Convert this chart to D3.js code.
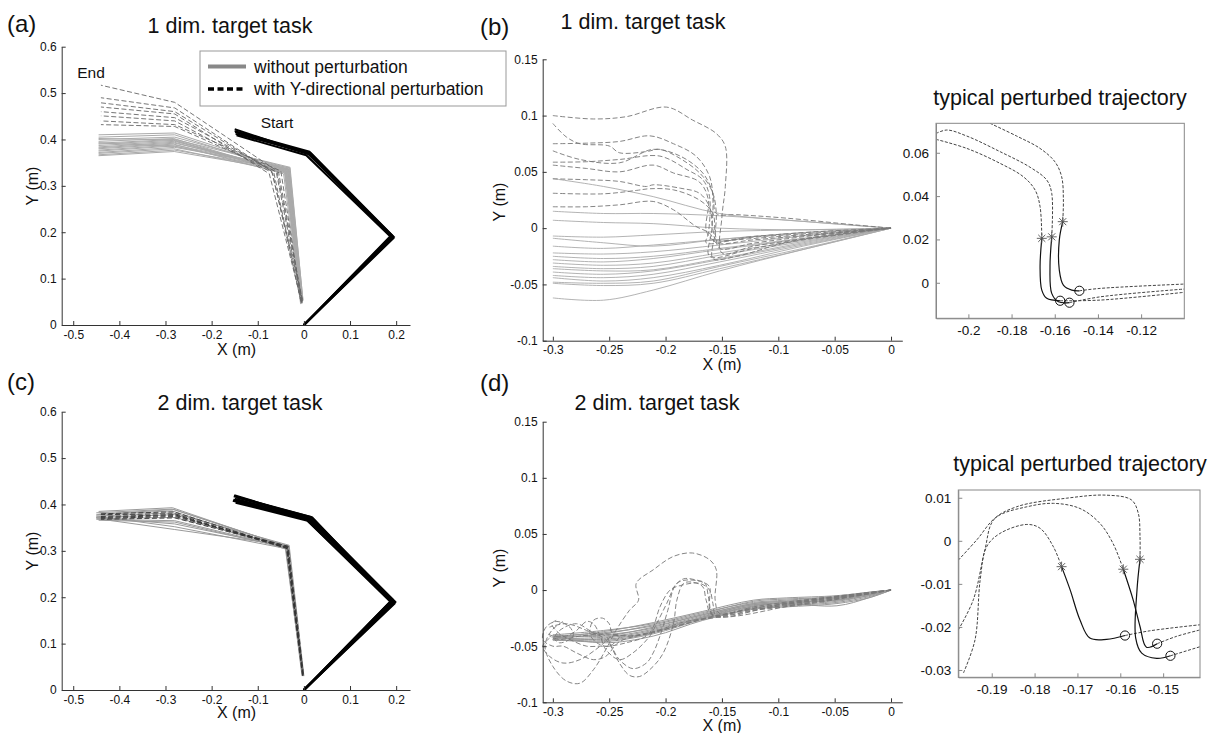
<!DOCTYPE html>
<html><head><meta charset="utf-8">
<script src="https://cdn.jsdelivr.net/npm/d3@7"></script>
<style>body{margin:0;background:#fff;} text{font-family:"Liberation Sans",Arial,Helvetica,sans-serif;fill:#111;}</style>
</head><body><svg id="c" width="1218" height="733"></svg>
<script>
// ---------- DATA ----------
// panel (a): arm postures [x,y] (m)
const aStart = [
 [[0,0],[0.195,0.190],[0.012,0.374],[-0.150,0.418]],
 [[0,0],[0.192,0.192],[0.010,0.372],[-0.148,0.412]],
 [[0,0],[0.190,0.194],[0.008,0.370],[-0.150,0.422]],
 [[0,0],[0.188,0.190],[0.005,0.366],[-0.146,0.409]],
 [[0,0],[0.194,0.187],[0.015,0.370],[-0.144,0.415]],
 [[0,0],[0.191,0.189],[0.011,0.368],[-0.149,0.416]]
];
const aEndSolid = [
 [[-0.004,0.050],[-0.035,0.335],[-0.280,0.414],[-0.445,0.410]],
 [[-0.006,0.048],[-0.038,0.333],[-0.280,0.410],[-0.445,0.405]],
 [[-0.003,0.055],[-0.032,0.338],[-0.280,0.405],[-0.445,0.400]],
 [[-0.005,0.046],[-0.040,0.330],[-0.282,0.402],[-0.445,0.396]],
 [[-0.002,0.052],[-0.030,0.340],[-0.280,0.400],[-0.445,0.392]],
 [[-0.006,0.058],[-0.042,0.328],[-0.282,0.398],[-0.445,0.390]],
 [[-0.004,0.047],[-0.036,0.334],[-0.280,0.396],[-0.445,0.387]],
 [[-0.005,0.053],[-0.038,0.331],[-0.281,0.394],[-0.445,0.384]],
 [[-0.003,0.049],[-0.033,0.336],[-0.280,0.392],[-0.445,0.382]],
 [[-0.007,0.045],[-0.044,0.326],[-0.282,0.390],[-0.445,0.380]],
 [[-0.004,0.056],[-0.034,0.337],[-0.280,0.388],[-0.445,0.377]],
 [[-0.005,0.050],[-0.039,0.332],[-0.281,0.386],[-0.445,0.375]],
 [[-0.002,0.054],[-0.031,0.339],[-0.280,0.383],[-0.445,0.372]],
 [[-0.006,0.047],[-0.041,0.329],[-0.282,0.380],[-0.445,0.370]],
 [[-0.004,0.051],[-0.035,0.335],[-0.280,0.377],[-0.445,0.367]],
 [[-0.005,0.049],[-0.037,0.333],[-0.281,0.374],[-0.445,0.365]],
 [[-0.003,0.052],[-0.033,0.336],[-0.280,0.385],[-0.445,0.393]],
 [[-0.006,0.048],[-0.040,0.330],[-0.281,0.399],[-0.445,0.402]]
];
const aEndDashed = [
 [[-0.004,0.052],[-0.055,0.330],[-0.280,0.480],[-0.440,0.517]],
 [[-0.006,0.048],[-0.065,0.328],[-0.280,0.468],[-0.440,0.490]],
 [[-0.003,0.055],[-0.070,0.332],[-0.280,0.460],[-0.440,0.479]],
 [[-0.005,0.050],[-0.075,0.326],[-0.280,0.455],[-0.440,0.470]],
 [[-0.004,0.047],[-0.060,0.330],[-0.280,0.447],[-0.440,0.460]],
 [[-0.007,0.053],[-0.068,0.328],[-0.280,0.440],[-0.440,0.451]],
 [[-0.005,0.049],[-0.050,0.332],[-0.280,0.432],[-0.440,0.440]],
 [[-0.003,0.051],[-0.058,0.330],[-0.280,0.428],[-0.440,0.432]]
];
// panel (c)
const cStart = [
 [[0,0],[0.198,0.190],[0.015,0.373],[-0.152,0.418]],
 [[0,0],[0.195,0.192],[0.012,0.370],[-0.150,0.412]],
 [[0,0],[0.192,0.195],[0.010,0.368],[-0.154,0.408]],
 [[0,0],[0.190,0.188],[0.008,0.365],[-0.148,0.404]],
 [[0,0],[0.196,0.186],[0.018,0.372],[-0.146,0.415]],
 [[0,0],[0.193,0.190],[0.013,0.369],[-0.151,0.420]],
 [[0,0],[0.189,0.192],[0.006,0.367],[-0.153,0.410]]
];
const cEndSolid = [
 [[-0.002,0.032],[-0.035,0.310],[-0.285,0.390],[-0.450,0.382]],
 [[-0.003,0.034],[-0.038,0.306],[-0.285,0.386],[-0.450,0.378]],
 [[0.000,0.030],[-0.032,0.312],[-0.285,0.382],[-0.450,0.375]],
 [[-0.004,0.036],[-0.040,0.304],[-0.280,0.378],[-0.450,0.372]],
 [[-0.001,0.033],[-0.034,0.309],[-0.280,0.372],[-0.450,0.370]],
 [[-0.003,0.031],[-0.037,0.307],[-0.280,0.365],[-0.450,0.368]],
 [[-0.002,0.035],[-0.036,0.308],[-0.280,0.358],[-0.450,0.372]],
 [[-0.004,0.030],[-0.039,0.305],[-0.280,0.352],[-0.450,0.375]],
 [[-0.001,0.034],[-0.033,0.311],[-0.280,0.346],[-0.445,0.369]],
 [[-0.002,0.032],[-0.036,0.308],[-0.285,0.393],[-0.445,0.385]],
 [[-0.003,0.033],[-0.037,0.306],[-0.280,0.362],[-0.445,0.366]],
 [[-0.002,0.031],[-0.035,0.309],[-0.282,0.389],[-0.445,0.379]]
];
const cEndDashed = [
 [[-0.002,0.033],[-0.036,0.309],[-0.280,0.376],[-0.440,0.372]],
 [[-0.003,0.031],[-0.038,0.306],[-0.280,0.380],[-0.440,0.378]],
 [[-0.001,0.035],[-0.034,0.310],[-0.280,0.374],[-0.440,0.370]],
 [[-0.002,0.032],[-0.037,0.307],[-0.282,0.384],[-0.440,0.380]],
 [[-0.003,0.034],[-0.035,0.308],[-0.280,0.371],[-0.440,0.368]],
 [[-0.002,0.030],[-0.036,0.305],[-0.280,0.378],[-0.440,0.374]]
];
// panel (b): hand paths
const bSolidX = [-0.300,-0.255,-0.211,-0.152,-0.078,0];
const bSolidY = [
 [0.044,0.037,0.028,0.013,0.006,0],
 [0.015,0.013,0.013,0.011,0.006,0],
 [0.007,0.005,0.004,0.000,-0.0015,0],
 [-0.007,-0.008,-0.006,-0.003,-0.0015,0],
 [-0.009,-0.013,-0.016,-0.010,-0.004,0],
 [-0.016,-0.018,-0.015,-0.010,-0.004,0],
 [-0.022,-0.023,-0.021,-0.015,-0.007,0],
 [-0.025,-0.027,-0.025,-0.018,-0.009,0],
 [-0.028,-0.030,-0.027,-0.019,-0.010,0],
 [-0.031,-0.033,-0.031,-0.022,-0.011,0],
 [-0.034,-0.036,-0.034,-0.024,-0.012,0],
 [-0.036,-0.038,-0.037,-0.027,-0.013,0],
 [-0.039,-0.041,-0.038,-0.028,-0.014,0],
 [-0.042,-0.044,-0.041,-0.030,-0.015,0],
 [-0.044,-0.047,-0.044,-0.033,-0.016,0],
 [-0.048,-0.049,-0.047,-0.034,-0.018,0],
 [-0.049,-0.051,-0.049,-0.036,-0.019,0],
 [-0.062,-0.064,-0.055,-0.038,-0.019,0]
];
const bDashed = [
 [[-0.300,0.100],[-0.264,0.097],[-0.235,0.099],[-0.199,0.1075],[-0.176,0.096],[-0.155,0.084],[-0.147,0.0725],[-0.147,0.037],[-0.150,0.010],[-0.150,-0.022],[-0.122,-0.016],[-0.063,-0.0074],[0,0]],
 [[-0.300,0.093],[-0.288,0.081],[-0.276,0.075],[-0.250,0.073],[-0.241,0.067],[-0.217,0.068],[-0.205,0.070],[-0.181,0.058],[-0.167,0.046],[-0.158,0.031],[-0.155,0.013],[-0.156,-0.0044],[-0.158,-0.027],[-0.137,-0.025],[-0.093,-0.013],[-0.033,-0.0044],[0,0]],
 [[-0.300,0.075],[-0.270,0.0755],[-0.241,0.077],[-0.214,0.082],[-0.193,0.075],[-0.173,0.064],[-0.161,0.046],[-0.158,0.025],[-0.159,-0.0015],[-0.161,-0.025],[-0.122,-0.018],[-0.063,-0.0074],[0,0]],
 [[-0.300,0.0687],[-0.276,0.061],[-0.241,0.058],[-0.211,0.070],[-0.187,0.064],[-0.167,0.049],[-0.158,0.031],[-0.155,0.013],[-0.137,0.012],[-0.093,0.0089],[-0.033,0.003],[0,0]],
 [[-0.300,0.0586],[-0.270,0.059],[-0.241,0.061],[-0.205,0.064],[-0.181,0.052],[-0.167,0.043],[-0.161,0.028],[-0.162,-0.0044],[-0.164,-0.013],[-0.137,-0.0104],[-0.078,-0.0059],[0,0]],
 [[-0.300,0.056],[-0.270,0.053],[-0.241,0.050],[-0.211,0.056],[-0.193,0.049],[-0.170,0.041],[-0.162,0.025],[-0.164,-0.0015],[-0.158,-0.0104],[-0.122,-0.0074],[-0.063,-0.003],[0,0]],
 [[-0.300,0.0438],[-0.270,0.043],[-0.241,0.0415],[-0.217,0.037],[-0.211,0.0385],[-0.187,0.0355],[-0.170,0.031],[-0.161,0.019],[-0.158,-0.0015],[-0.155,-0.0104],[-0.122,-0.008],[0,0]],
 [[-0.300,0.031],[-0.255,0.0305],[-0.226,0.0335],[-0.214,0.035],[-0.193,0.034],[-0.170,0.025],[-0.158,0.013],[-0.156,-0.0044],[-0.152,-0.018],[-0.122,-0.0133],[-0.063,-0.006],[0,0]],
 [[-0.300,0.019],[-0.270,0.019],[-0.241,0.0207],[-0.211,0.0237],[-0.193,0.0163],[-0.173,0.0015],[-0.161,-0.0044],[-0.155,-0.013],[-0.122,-0.0104],[0,0]]
];
// panel (d): hand paths
const dSolidX = [-0.300,-0.255,-0.211,-0.167,-0.122,-0.093,-0.048,-0.020,0];
const dSolidY = [
 [-0.040,-0.036,-0.030,-0.020,-0.011,-0.009,-0.006,-0.003,0],
 [-0.041,-0.038,-0.032,-0.022,-0.012,-0.010,-0.007,-0.004,0],
 [-0.042,-0.040,-0.034,-0.023,-0.013,-0.011,-0.008,-0.004,0],
 [-0.043,-0.042,-0.035,-0.024,-0.014,-0.012,-0.009,-0.005,0],
 [-0.042,-0.044,-0.037,-0.025,-0.015,-0.013,-0.010,-0.005,0],
 [-0.044,-0.046,-0.039,-0.026,-0.016,-0.014,-0.011,-0.006,0],
 [-0.041,-0.047,-0.041,-0.027,-0.017,-0.015,-0.012,-0.007,0],
 [-0.043,-0.039,-0.031,-0.021,-0.010,-0.008,-0.006,-0.002,0],
 [-0.045,-0.043,-0.036,-0.025,-0.014,-0.011,-0.009,-0.004,0],
 [-0.042,-0.037,-0.029,-0.019,-0.009,-0.007,-0.005,-0.002,0],
 [-0.044,-0.045,-0.038,-0.024,-0.013,-0.012,-0.014,-0.007,0],
 [-0.040,-0.041,-0.033,-0.022,-0.012,-0.010,-0.007,-0.003,0]
];
const dDashed = [
 [[0,0],[-0.034,-0.006],[-0.078,-0.013],[-0.122,-0.018],[-0.152,-0.021],[-0.156,-0.009],[-0.155,0.018],[-0.161,0.027],[-0.176,0.033],[-0.193,0.030],[-0.211,0.018],[-0.226,0.006],[-0.224,-0.009],[-0.232,-0.018],[-0.244,-0.036],[-0.253,-0.053],[-0.264,-0.071],[-0.276,-0.083],[-0.288,-0.081],[-0.300,-0.068],[-0.307,-0.050],[-0.301,-0.036],[-0.291,-0.028]],
 [[0,0],[-0.063,-0.009],[-0.122,-0.016],[-0.158,-0.022],[-0.161,-0.012],[-0.161,0.003],[-0.167,0.007],[-0.181,0.009],[-0.190,0.006],[-0.199,-0.012],[-0.208,-0.030],[-0.214,-0.041],[-0.229,-0.056],[-0.241,-0.062],[-0.253,-0.053],[-0.258,-0.041],[-0.264,-0.030],[-0.270,-0.028],[-0.279,-0.036],[-0.288,-0.041],[-0.300,-0.041],[-0.306,-0.038]],
 [[0,0],[-0.093,-0.012],[-0.158,-0.023],[-0.164,-0.009],[-0.167,0.003],[-0.176,0.007],[-0.184,0.006],[-0.190,-0.009],[-0.193,-0.030],[-0.202,-0.056],[-0.211,-0.068],[-0.223,-0.077],[-0.232,-0.076],[-0.241,-0.065],[-0.247,-0.053],[-0.253,-0.044],[-0.270,-0.036],[-0.288,-0.030],[-0.303,-0.033]],
 [[0,0],[-0.122,-0.015],[-0.155,-0.023],[-0.158,-0.012],[-0.161,0],[-0.170,0.006],[-0.187,0.004],[-0.196,0],[-0.205,-0.015],[-0.211,-0.033],[-0.217,-0.041],[-0.235,-0.047],[-0.250,-0.050],[-0.258,-0.050],[-0.270,-0.050],[-0.285,-0.044],[-0.294,-0.039],[-0.301,-0.030],[-0.297,-0.027]],
 [[0,0],[-0.093,-0.013],[-0.152,-0.024],[-0.182,-0.028],[-0.211,-0.037],[-0.235,-0.041],[-0.247,-0.039],[-0.250,-0.030],[-0.256,-0.025],[-0.264,-0.027],[-0.267,-0.039],[-0.261,-0.047],[-0.250,-0.050],[-0.241,-0.041],[-0.253,-0.039],[-0.276,-0.041],[-0.294,-0.044],[-0.303,-0.041]],
 [[0,0],[-0.108,-0.014],[-0.158,-0.024],[-0.193,-0.033],[-0.217,-0.039],[-0.241,-0.046],[-0.253,-0.059],[-0.264,-0.062],[-0.279,-0.056],[-0.291,-0.050],[-0.300,-0.050],[-0.309,-0.044],[-0.306,-0.033],[-0.297,-0.028],[-0.285,-0.033],[-0.282,-0.041],[-0.294,-0.047],[-0.301,-0.041]],
 [[0,0],[-0.078,-0.012],[-0.158,-0.022],[-0.162,-0.006],[-0.165,0.006],[-0.173,0.009],[-0.184,0.010],[-0.192,0.003],[-0.198,-0.018],[-0.205,-0.041],[-0.211,-0.056],[-0.217,-0.065],[-0.229,-0.070],[-0.241,-0.062],[-0.248,-0.050],[-0.253,-0.041],[-0.264,-0.038],[-0.279,-0.030],[-0.294,-0.036],[-0.300,-0.044]],
 [[0,0],[-0.063,-0.010],[-0.152,-0.022],[-0.211,-0.038],[-0.229,-0.041],[-0.247,-0.041],[-0.258,-0.050],[-0.276,-0.062],[-0.291,-0.065],[-0.303,-0.059],[-0.309,-0.050],[-0.303,-0.043]]
];
// insets: each trajectory = pre (dashed), feedback (solid), post (dashed)
const ibPre = [
 [[-0.215,0.0662],[-0.2007,0.062],[-0.1853,0.0551],[-0.1745,0.0489],[-0.1691,0.0428],[-0.1668,0.0351],[-0.166,0.0205]],
 [[-0.215,0.0689],[-0.210,0.0705],[-0.2007,0.0677],[-0.1853,0.0605],[-0.1714,0.0533],[-0.1637,0.0474],[-0.1614,0.0413],[-0.1614,0.0212]],
 [[-0.190,0.0736],[-0.1776,0.0677],[-0.1668,0.062],[-0.1599,0.0558],[-0.1568,0.0489],[-0.156,0.0382],[-0.1563,0.0282]]
];
const ibMid = [
 [[-0.166,0.0205],[-0.1668,0.0074],[-0.166,-0.0034],[-0.1637,-0.0072],[-0.1575,-0.0083]],
 [[-0.1614,0.0212],[-0.1622,0.0074],[-0.1614,-0.0049],[-0.1583,-0.0088],[-0.1532,-0.0092]],
 [[-0.1563,0.0282],[-0.1579,0.0197],[-0.1579,0.0059],[-0.156,-0.0011],[-0.1521,-0.0034],[-0.1486,-0.0037]]
];
const ibPost = [
 [[-0.1575,-0.0083],[-0.139,-0.008],[-0.100,-0.0044]],
 [[-0.1532,-0.0092],[-0.139,-0.0065],[-0.100,-0.0029]],
 [[-0.1486,-0.0037],[-0.139,-0.0026],[-0.100,-0.0006]]
];
const idPre = [
 [[-0.1966,-0.0307],[-0.1939,-0.023],[-0.1927,-0.0091],[-0.1912,-0.0014],[-0.1881,0.0017],[-0.1818,0.0038],[-0.1787,0.0029],[-0.1756,-0.0014],[-0.1737,-0.006]],
 [[-0.1978,-0.0045],[-0.1935,0.0002],[-0.1888,0.0056],[-0.1818,0.0079],[-0.1756,0.0087],[-0.1694,0.0075],[-0.1648,0.0041],[-0.1617,-0.0006],[-0.1593,-0.0066]],
 [[-0.1978,-0.0207],[-0.1943,-0.0137],[-0.1916,-0.0021],[-0.1896,0.0048],[-0.1842,0.0079],[-0.1725,0.0099],[-0.1632,0.0106],[-0.1574,0.0095],[-0.1558,0.0064],[-0.1554,0.001],[-0.1554,-0.0043]]
];
const idMid = [
 [[-0.1737,-0.006],[-0.1717,-0.0114],[-0.1694,-0.0184],[-0.1671,-0.0226],[-0.1632,-0.0229],[-0.1589,-0.022]],
 [[-0.1593,-0.0066],[-0.157,-0.0137],[-0.1554,-0.0199],[-0.1539,-0.0247],[-0.1514,-0.0239]],
 [[-0.1554,-0.0043],[-0.1561,-0.0114],[-0.1564,-0.0226],[-0.155,-0.0261],[-0.1515,-0.0273],[-0.1483,-0.0267]]
];
const idPost = [
 [[-0.1589,-0.022],[-0.1531,-0.0209],[-0.1414,-0.0195]],
 [[-0.1514,-0.0239],[-0.1469,-0.0222],[-0.1414,-0.0207]],
 [[-0.1483,-0.0267],[-0.1414,-0.0246]]
];
// tick labels
const armXTicks = [-0.5,-0.4,-0.3,-0.2,-0.1,0,0.1,0.2];
const armYTicks = [0,0.1,0.2,0.3,0.4,0.5,0.6];
const handXTicks = [-0.3,-0.25,-0.2,-0.15,-0.1,-0.05,0];
const handYTicks = [-0.1,-0.05,0,0.05,0.1,0.15];
const ibXTicks = [-0.2,-0.18,-0.16,-0.14,-0.12];
const ibYTicks = [0,0.02,0.04,0.06];
const idXTicks = [-0.19,-0.18,-0.17,-0.16,-0.15];
const idYTicks = [-0.03,-0.02,-0.01,0,0.01];
const legendLabels = ["without perturbation","with Y-directional perturbation"];

// ---------- DRAW ----------
const svg = d3.select('#c');
const fmt = d => String(+d.toFixed(3)).replace('\u2212','-');
const FONT = '"Liberation Sans",Arial,Helvetica,sans-serif';

function mkPanel(cfg){
  const x = d3.scaleLinear().domain(cfg.xd).range(cfg.xr);
  const y = d3.scaleLinear().domain(cfg.yd).range(cfg.yr);
  const g = svg.append('g');
  const clipId = 'clip' + Math.random().toString(36).slice(2,8);
  svg.append('clipPath').attr('id',clipId).append('rect')
    .attr('x',cfg.xr[0]).attr('y',cfg.yr[1]).attr('width',cfg.xr[1]-cfg.xr[0]).attr('height',cfg.yr[0]-cfg.yr[1]);
  const plot = g.append('g');
  if (cfg.clip) plot.attr('clip-path',`url(#${clipId})`);
  const fs = cfg.fs || 12;
  const ax = g.append('g').attr('transform',`translate(0,${cfg.yr[0]})`)
    .call(d3.axisBottom(x).tickValues(cfg.xt).tickFormat(fmt).tickSizeInner(-4).tickSizeOuter(0).tickPadding(cfg.pad||5));
  const ay = g.append('g').attr('transform',`translate(${cfg.xr[0]},0)`)
    .call(d3.axisLeft(y).tickValues(cfg.yt).tickFormat(fmt).tickSizeInner(-4).tickSizeOuter(0).tickPadding(cfg.pad||5));
  [ax,ay].forEach(a=>{
    a.selectAll('text').attr('font-size',fs).attr('font-family',FONT).attr('fill','#111');
    a.selectAll('line').attr('stroke',cfg.box?'#888':'#333');
    a.select('.domain').attr('stroke',cfg.box?'#888':'#333');
  });
  if (cfg.box){
    g.append('rect').attr('x',cfg.xr[0]).attr('y',cfg.yr[1]).attr('width',cfg.xr[1]-cfg.xr[0]).attr('height',cfg.yr[0]-cfg.yr[1])
      .attr('fill','none').attr('stroke','#888').attr('stroke-width',1);
  }
  const line = d3.line().x(d=>x(d[0])).y(d=>y(d[1]));
  return {x,y,g,plot,line};
}
function txt(x,y,s,size,anchor,rot){
  const t = svg.append('text').attr('x',x).attr('y',y).text(s).attr('font-size',size)
    .attr('text-anchor',anchor||'middle').attr('font-family',FONT);
  if (rot) t.attr('transform',`rotate(${rot},${x},${y})`);
  return t;
}

// Panel (a)
const A = mkPanel({xd:[-0.525,0.23],xr:[61.7,410],yd:[0,0.6],yr:[325,46.7],xt:armXTicks,yt:armYTicks});
A.plot.selectAll('.s').data(aEndSolid).join('path').attr('d',A.line).attr('fill','none').attr('stroke','#aaa').attr('stroke-width',1);
A.plot.selectAll('.d').data(aEndDashed).join('path').attr('d',A.line).attr('fill','none').attr('stroke','#666').attr('stroke-width',0.9).attr('stroke-dasharray','5,2.5');
A.plot.selectAll('.k').data(aStart).join('path').attr('d',A.line).attr('fill','none').attr('stroke','#000').attr('stroke-width',2);

// Panel (c)
const C = mkPanel({xd:[-0.525,0.23],xr:[61.7,410],yd:[0,0.6],yr:[690,411.7],xt:armXTicks,yt:armYTicks});
C.plot.selectAll('.s').data(cEndSolid).join('path').attr('d',C.line).attr('fill','none').attr('stroke','#9a9a9a').attr('stroke-width',1);
C.plot.selectAll('.d').data(cEndDashed).join('path').attr('d',C.line).attr('fill','none').attr('stroke','#333').attr('stroke-width',0.9).attr('stroke-dasharray','5,2.5');
C.plot.selectAll('.k').data(cStart).join('path').attr('d',C.line).attr('fill','none').attr('stroke','#000').attr('stroke-width',2.2);

// Panel (b)
const B = mkPanel({xd:[-0.309,0.010],xr:[542.7,902.3],yd:[-0.1,0.15],yr:[340.7,59.3],xt:handXTicks,yt:handYTicks});
const smooth = d3.line().x(d=>B.x(d[0])).y(d=>B.y(d[1])).curve(d3.curveCatmullRom.alpha(0.5));
B.plot.selectAll('.s').data(bSolidY.map(r=>r.map((v,i)=>[bSolidX[i],v]))).join('path').attr('d',smooth)
  .attr('fill','none').attr('stroke','#aaa').attr('stroke-width',0.9);
B.plot.selectAll('.d').data(bDashed).join('path').attr('d',smooth)
  .attr('fill','none').attr('stroke','#777').attr('stroke-width',0.9).attr('stroke-dasharray','5,2.5');

// Panel (d)
const D = mkPanel({xd:[-0.309,0.010],xr:[542.7,902.3],yd:[-0.1,0.15],yr:[702.3,421.7],xt:handXTicks,yt:handYTicks});
const smoothD = d3.line().x(d=>D.x(d[0])).y(d=>D.y(d[1])).curve(d3.curveCatmullRom.alpha(0.5));
D.plot.selectAll('.s').data(dSolidY.map(r=>r.map((v,i)=>[dSolidX[i],v]))).join('path').attr('d',smoothD)
  .attr('fill','none').attr('stroke','#999').attr('stroke-width',1);
D.plot.selectAll('.d').data(dDashed).join('path').attr('d',smoothD)
  .attr('fill','none').attr('stroke','#777').attr('stroke-width',0.9).attr('stroke-dasharray','5,2.5');

// insets
function inset(P, pre, mid, post){
  const sl = d3.line().x(d=>P.x(d[0])).y(d=>P.y(d[1])).curve(d3.curveCatmullRom.alpha(0.5));
  P.plot.selectAll('.pre').data(pre).join('path').attr('d',sl).attr('fill','none').attr('stroke','#444').attr('stroke-width',1).attr('stroke-dasharray','3,1.6');
  P.plot.selectAll('.post').data(post).join('path').attr('d',sl).attr('fill','none').attr('stroke','#444').attr('stroke-width',1).attr('stroke-dasharray','3,1.6');
  P.plot.selectAll('.mid').data(mid).join('path').attr('d',sl).attr('fill','none').attr('stroke','#111').attr('stroke-width',1.2);
  const stars = mid.map(m=>m[0]);
  const ends = mid.map(m=>m[m.length-1]);
  const sg = P.g.selectAll('.star').data(stars).join('g').attr('transform',d=>`translate(${P.x(d[0])},${P.y(d[1])})`);
  [0,45,90,135].forEach(a=>{
    sg.append('line').attr('x1',-5).attr('x2',5).attr('y1',0).attr('y2',0).attr('transform',`rotate(${a})`)
      .attr('stroke','#555').attr('stroke-width',0.9);
  });
  P.g.selectAll('.circ').data(ends).join('circle').attr('cx',d=>P.x(d[0])).attr('cy',d=>P.y(d[1])).attr('r',4.6)
    .attr('fill','none').attr('stroke','#111').attr('stroke-width',1);
}
const IB = mkPanel({xd:[-0.215,-0.100],xr:[936,1184.3],yd:[-0.0164,0.0736],yr:[318.3,123.3],xt:ibXTicks,yt:ibYTicks,box:true,clip:true,fs:13.5,pad:7});
inset(IB, ibPre, ibMid, ibPost);
const ID = mkPanel({xd:[-0.1978,-0.1414],xr:[958.3,1200],yd:[-0.0317,0.0118],yr:[677.3,490],xt:idXTicks,yt:idYTicks,box:true,clip:true,fs:13.5,pad:7});
inset(ID, idPre, idMid, idPost);

// legend
const lg = svg.append('g');
lg.append('rect').attr('x',200).attr('y',51).attr('width',306).attr('height',55).attr('fill','#fff').attr('stroke','#999').attr('stroke-width',1);
lg.append('line').attr('x1',208).attr('x2',246).attr('y1',66.5).attr('y2',66.5).attr('stroke','#888').attr('stroke-width',4);
lg.append('line').attr('x1',208).attr('x2',246).attr('y1',89).attr('y2',89).attr('stroke','#000').attr('stroke-width',3.5).attr('stroke-dasharray','6,3.5');
txt(254,73,legendLabels[0],17.5,'start');
txt(254,95,legendLabels[1],17.5,'start');

// texts
txt(7,32,'(a)',24,'start');
txt(230,33,'1 dim. target task',21.5);
txt(91,78,'End',15.5);
txt(277,128,'Start',15.5);
txt(236.5,355,'X (m)',16);
txt(38,186,'Y (m)',16,'middle',-90);

txt(7,390,'(c)',24,'start');
txt(240,410,'2 dim. target task',21.5);
txt(236.5,718,'X (m)',16);
txt(38,551,'Y (m)',16,'middle',-90);

txt(480,35,'(b)',24,'start');
txt(643,29,'1 dim. target task',21.5);
txt(722,370,'X (m)',16);
txt(505,202,'Y (m)',16,'middle',-90);

txt(480,391,'(d)',24,'start');
txt(657,410,'2 dim. target task',21.5);
txt(722,731,'X (m)',16);
txt(505,568,'Y (m)',16,'middle',-90);

txt(1060,105,'typical perturbed trajectory',21.5);
txt(1080,471,'typical perturbed trajectory',21.5);
</script></body></html>
